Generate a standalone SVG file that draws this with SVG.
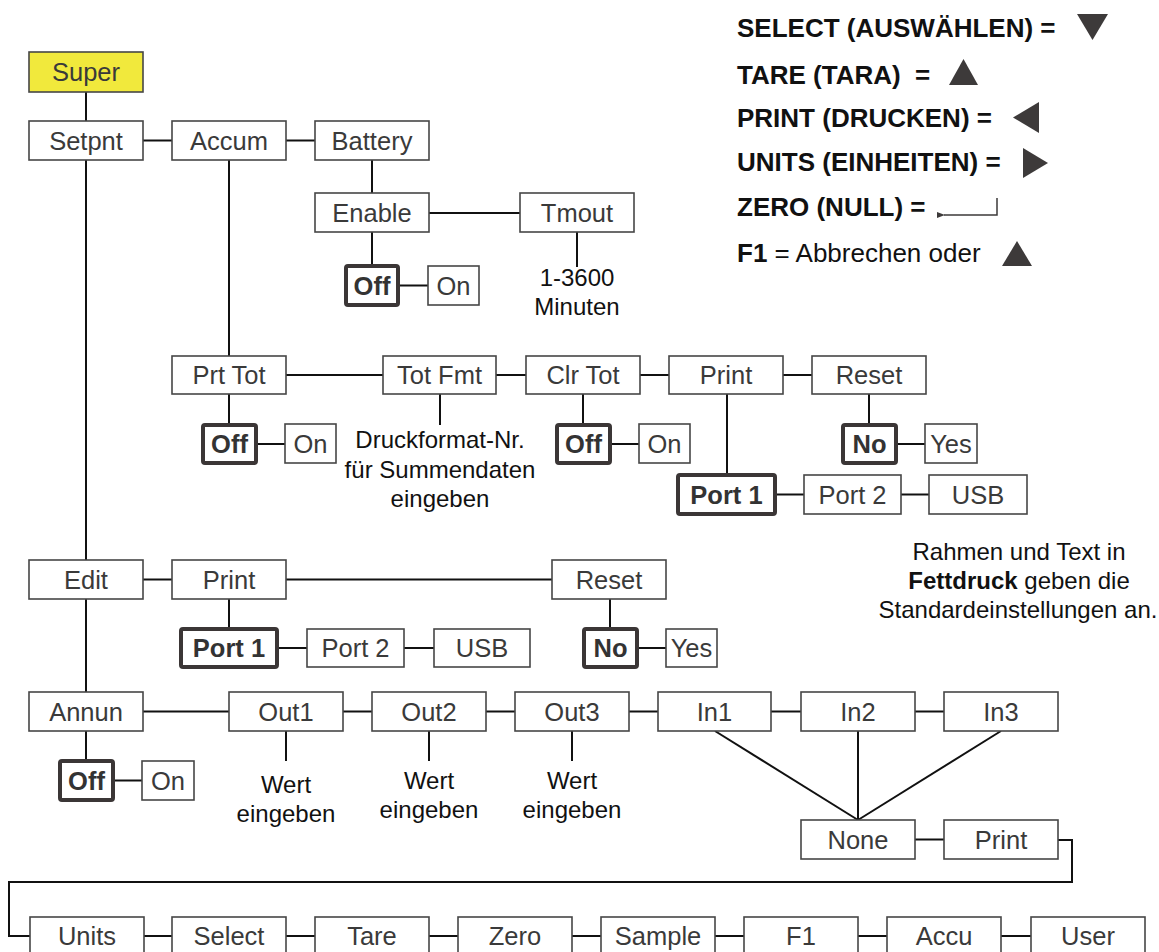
<svg xmlns="http://www.w3.org/2000/svg" width="1159" height="952" viewBox="0 0 1159 952">
<style>
.box{fill:#fff;stroke:#464646;stroke-width:1.6}
.sel{fill:#fff;stroke:#3b3636;stroke-width:4}
.lbl{font-family:"Liberation Sans",Arial,sans-serif;font-size:25.5px;fill:#3a3a3a;text-anchor:middle}
.b{font-weight:bold;fill:#333}
.note{font-family:"Liberation Sans",Arial,sans-serif;font-size:24px;fill:#111;text-anchor:middle}
.leg{font-family:"Liberation Sans",Arial,sans-serif;font-size:26px;fill:#111;font-weight:bold;white-space:pre}
.tri{fill:#3d3a3a}
.conn line,.conn path,.conn polyline{stroke:#111;stroke-width:2;fill:none}
</style>
<defs>
<marker id="ah" markerWidth="8" markerHeight="6" refX="1" refY="3" orient="auto" markerUnits="userSpaceOnUse">
<path d="M8,0 L0,3 L8,6 Z" fill="#3d3a3a"/>
</marker>
</defs>
<rect width="1159" height="952" fill="#fff"/>

<g id="connectors" class="conn">
<line x1="86" y1="92" x2="86" y2="121"/>
<line x1="143" y1="140.5" x2="172" y2="140.5"/>
<line x1="286" y1="140.5" x2="315" y2="140.5"/>
<line x1="372" y1="160" x2="372" y2="193"/>
<line x1="429" y1="213" x2="520" y2="213"/>
<line x1="372" y1="232" x2="372" y2="264"/>
<line x1="400" y1="285.5" x2="428" y2="285.5"/>
<line x1="577" y1="232" x2="577" y2="267"/>
<line x1="86" y1="160" x2="86" y2="560"/>
<line x1="229" y1="160" x2="229" y2="356"/>
<line x1="286" y1="375" x2="383" y2="375"/>
<line x1="496" y1="375" x2="526" y2="375"/>
<line x1="640" y1="375" x2="669" y2="375"/>
<line x1="783" y1="375" x2="812" y2="375"/>
<line x1="229" y1="394" x2="229" y2="423"/>
<line x1="258" y1="444" x2="285" y2="444"/>
<line x1="440" y1="394" x2="440" y2="425"/>
<line x1="583" y1="394" x2="583" y2="423"/>
<line x1="611" y1="444" x2="639" y2="444"/>
<line x1="869" y1="394" x2="869" y2="423"/>
<line x1="898" y1="444" x2="925" y2="444"/>
<line x1="727" y1="394" x2="727" y2="473"/>
<line x1="777" y1="494.5" x2="804" y2="494.5"/>
<line x1="901" y1="494.5" x2="929" y2="494.5"/>
<line x1="143" y1="579.5" x2="172" y2="579.5"/>
<line x1="286" y1="579.5" x2="552" y2="579.5"/>
<line x1="229" y1="599" x2="229" y2="627"/>
<line x1="279" y1="648" x2="307" y2="648"/>
<line x1="404" y1="648" x2="434" y2="648"/>
<line x1="610" y1="599" x2="610" y2="627"/>
<line x1="637" y1="648" x2="666" y2="648"/>
<line x1="86" y1="599" x2="86" y2="692"/>
<line x1="143" y1="711.5" x2="229" y2="711.5"/>
<line x1="343" y1="711.5" x2="372" y2="711.5"/>
<line x1="486" y1="711.5" x2="515" y2="711.5"/>
<line x1="629" y1="711.5" x2="658" y2="711.5"/>
<line x1="771" y1="711.5" x2="801" y2="711.5"/>
<line x1="915" y1="711.5" x2="944" y2="711.5"/>
<line x1="86" y1="731" x2="86" y2="759"/>
<line x1="115" y1="780.5" x2="142" y2="780.5"/>
<line x1="286" y1="731" x2="286" y2="761"/>
<line x1="429" y1="731" x2="429" y2="761"/>
<line x1="572" y1="731" x2="572" y2="761"/>
<line x1="715" y1="731" x2="858" y2="820"/>
<line x1="858" y1="731" x2="858" y2="820"/>
<line x1="1001" y1="731" x2="858" y2="820"/>
<line x1="915" y1="839.5" x2="944" y2="839.5"/>
<polyline points="1058,840 1072,840 1072,882 9,882 9,936 30,936"/>
<line x1="144" y1="936" x2="172" y2="936"/>
<line x1="286" y1="936" x2="315" y2="936"/>
<line x1="429" y1="936" x2="458" y2="936"/>
<line x1="572" y1="936" x2="601" y2="936"/>
<line x1="715" y1="936" x2="744" y2="936"/>
<line x1="858" y1="936" x2="887" y2="936"/>
<line x1="1001" y1="936" x2="1031" y2="936"/>
</g>

<g id="super"><rect x="29" y="52" width="114" height="40" fill="#f1e93c" stroke="#464646" stroke-width="1.6"/><text class="lbl" x="86" y="81">Super</text></g>
<g id="setpnt"><rect class="box" x="29" y="121" width="114" height="39"/><text class="lbl" x="86" y="149.5">Setpnt</text></g>
<g id="accum"><rect class="box" x="172" y="121" width="114" height="39"/><text class="lbl" x="229" y="149.5">Accum</text></g>
<g id="battery"><rect class="box" x="315" y="121" width="114" height="39"/><text class="lbl" x="372" y="149.5">Battery</text></g>
<g id="enable"><rect class="box" x="315" y="193" width="114" height="39"/><text class="lbl" x="372" y="221.5">Enable</text></g>
<g id="tmout"><rect class="box" x="520" y="193" width="114" height="39"/><text class="lbl" x="577" y="221.5">Tmout</text></g>
<g id="enable-off"><rect class="sel" x="346" y="266" width="52" height="39" rx="2"/><text class="lbl b" x="372" y="294.5">Off</text></g>
<g id="enable-on"><rect class="box" x="428" y="266" width="51" height="39"/><text class="lbl" x="453.5" y="294.5">On</text></g>
<g id="tmout-range"><text class="note" x="577" y="286">1-3600</text><text class="note" x="577" y="315">Minuten</text></g>

<g id="prttot"><rect class="box" x="172" y="356" width="114" height="38"/><text class="lbl" x="229" y="384">Prt Tot</text></g>
<g id="totfmt"><rect class="box" x="383" y="356" width="113" height="38"/><text class="lbl" x="439.5" y="384">Tot Fmt</text></g>
<g id="clrtot"><rect class="box" x="526" y="356" width="114" height="38"/><text class="lbl" x="583" y="384">Clr Tot</text></g>
<g id="accum-print"><rect class="box" x="669" y="356" width="114" height="38"/><text class="lbl" x="726" y="384">Print</text></g>
<g id="accum-reset"><rect class="box" x="812" y="356" width="114" height="38"/><text class="lbl" x="869" y="384">Reset</text></g>
<g id="prttot-off"><rect class="sel" x="203" y="425" width="53" height="38" rx="2"/><text class="lbl b" x="229.5" y="453">Off</text></g>
<g id="prttot-on"><rect class="box" x="285" y="424" width="51" height="39"/><text class="lbl" x="310.5" y="453">On</text></g>
<g id="totfmt-note"><text class="note" x="440" y="448">Druckformat-Nr.</text><text class="note" x="440" y="477.5">für Summendaten</text><text class="note" x="440" y="507">eingeben</text></g>
<g id="clrtot-off"><rect class="sel" x="557" y="425" width="53" height="38" rx="2"/><text class="lbl b" x="583.5" y="453">Off</text></g>
<g id="clrtot-on"><rect class="box" x="639" y="424" width="51" height="39"/><text class="lbl" x="664.5" y="453">On</text></g>
<g id="accum-reset-no"><rect class="sel" x="843" y="425" width="53" height="38" rx="2"/><text class="lbl b" x="869.5" y="453">No</text></g>
<g id="accum-reset-yes"><rect class="box" x="925" y="424" width="52" height="39"/><text class="lbl" x="951" y="453">Yes</text></g>
<g id="accum-port1"><rect class="sel" x="678" y="475" width="97" height="39" rx="2"/><text class="lbl b" x="726.5" y="503.5">Port 1</text></g>
<g id="accum-port2"><rect class="box" x="804" y="475" width="97" height="39"/><text class="lbl" x="852.5" y="503.5">Port 2</text></g>
<g id="accum-usb"><rect class="box" x="929" y="475" width="98" height="39"/><text class="lbl" x="978" y="503.5">USB</text></g>

<g id="legend-note"><text class="note" x="1019" y="560">Rahmen und Text in</text><text class="note" x="1019" y="589"><tspan font-weight="bold">Fettdruck</tspan> geben die</text><text class="note" x="1018" y="618">Standardeinstellungen an.</text></g>

<g id="edit"><rect class="box" x="29" y="560" width="114" height="39"/><text class="lbl" x="86" y="588.5">Edit</text></g>
<g id="edit-print"><rect class="box" x="172" y="560" width="114" height="39"/><text class="lbl" x="229" y="588.5">Print</text></g>
<g id="edit-reset"><rect class="box" x="552" y="560" width="114" height="39"/><text class="lbl" x="609" y="588.5">Reset</text></g>
<g id="edit-port1"><rect class="sel" x="181" y="629" width="96" height="38" rx="2"/><text class="lbl b" x="229" y="657">Port 1</text></g>
<g id="edit-port2"><rect class="box" x="307" y="629" width="97" height="38"/><text class="lbl" x="355.5" y="657">Port 2</text></g>
<g id="edit-usb"><rect class="box" x="434" y="629" width="96" height="38"/><text class="lbl" x="482" y="657">USB</text></g>
<g id="edit-reset-no"><rect class="sel" x="584" y="629" width="53" height="38" rx="2"/><text class="lbl b" x="610.5" y="657">No</text></g>
<g id="edit-reset-yes"><rect class="box" x="666" y="629" width="51" height="38"/><text class="lbl" x="691.5" y="657">Yes</text></g>

<g id="annun"><rect class="box" x="29" y="692" width="114" height="39"/><text class="lbl" x="86" y="720.5">Annun</text></g>
<g id="out1"><rect class="box" x="229" y="692" width="114" height="39"/><text class="lbl" x="286" y="720.5">Out1</text></g>
<g id="out2"><rect class="box" x="372" y="692" width="114" height="39"/><text class="lbl" x="429" y="720.5">Out2</text></g>
<g id="out3"><rect class="box" x="515" y="692" width="114" height="39"/><text class="lbl" x="572" y="720.5">Out3</text></g>
<g id="in1"><rect class="box" x="658" y="692" width="113" height="39"/><text class="lbl" x="714.5" y="720.5">In1</text></g>
<g id="in2"><rect class="box" x="801" y="692" width="114" height="39"/><text class="lbl" x="858" y="720.5">In2</text></g>
<g id="in3"><rect class="box" x="944" y="692" width="114" height="39"/><text class="lbl" x="1001" y="720.5">In3</text></g>
<g id="annun-off"><rect class="sel" x="60" y="761" width="53" height="39" rx="2"/><text class="lbl b" x="86.5" y="789.5">Off</text></g>
<g id="annun-on"><rect class="box" x="142" y="761" width="52" height="39"/><text class="lbl" x="168" y="789.5">On</text></g>
<g id="out1-note"><text class="note" x="286" y="793">Wert</text><text class="note" x="286" y="822">eingeben</text></g>
<g id="out2-note"><text class="note" x="429" y="789">Wert</text><text class="note" x="429" y="818">eingeben</text></g>
<g id="out3-note"><text class="note" x="572" y="789">Wert</text><text class="note" x="572" y="818">eingeben</text></g>
<g id="none"><rect class="box" x="801" y="820" width="114" height="39"/><text class="lbl" x="858" y="848.5">None</text></g>
<g id="in-print"><rect class="box" x="944" y="820" width="114" height="39"/><text class="lbl" x="1001" y="848.5">Print</text></g>

<g id="units"><rect class="box" x="30" y="917" width="114" height="42"/><text class="lbl" x="87" y="945">Units</text></g>
<g id="select"><rect class="box" x="172" y="917" width="114" height="42"/><text class="lbl" x="229" y="945">Select</text></g>
<g id="tare"><rect class="box" x="315" y="917" width="114" height="42"/><text class="lbl" x="372" y="945">Tare</text></g>
<g id="zero"><rect class="box" x="458" y="917" width="114" height="42"/><text class="lbl" x="515" y="945">Zero</text></g>
<g id="sample"><rect class="box" x="601" y="917" width="114" height="42"/><text class="lbl" x="658" y="945">Sample</text></g>
<g id="f1"><rect class="box" x="744" y="917" width="114" height="42"/><text class="lbl" x="801" y="945">F1</text></g>
<g id="accu"><rect class="box" x="887" y="917" width="114" height="42"/><text class="lbl" x="944" y="945">Accu</text></g>
<g id="user"><rect class="box" x="1031" y="917" width="114" height="42"/><text class="lbl" x="1088" y="945">User</text></g>

<g id="legend">
<text class="leg" x="737" y="37">SELECT (AUSWÄHLEN) =</text>
<polygon class="tri" points="1077,14 1108,14 1092.5,40"/>
<text class="leg" x="737" y="84">TARE (TARA)  =</text>
<polygon class="tri" points="949,85 978,85 963.5,59"/>
<text class="leg" x="737" y="127">PRINT (DRUCKEN) =</text>
<polygon class="tri" points="1013,117.5 1039,102 1039,133"/>
<text class="leg" x="737" y="171">UNITS (EINHEITEN) =</text>
<polygon class="tri" points="1023,148 1048,163 1023,178"/>
<text class="leg" x="737" y="216">ZERO (NULL) =</text>
<path d="M997,198 V215 H944" stroke="#3d3a3a" stroke-width="1.5" fill="none" marker-end="url(#ah)"/>
<text class="leg" x="737" y="262">F1<tspan font-weight="normal"> = Abbrechen oder</tspan></text>
<polygon class="tri" points="1002,266 1032,266 1017,241"/>
</g>
</svg>
